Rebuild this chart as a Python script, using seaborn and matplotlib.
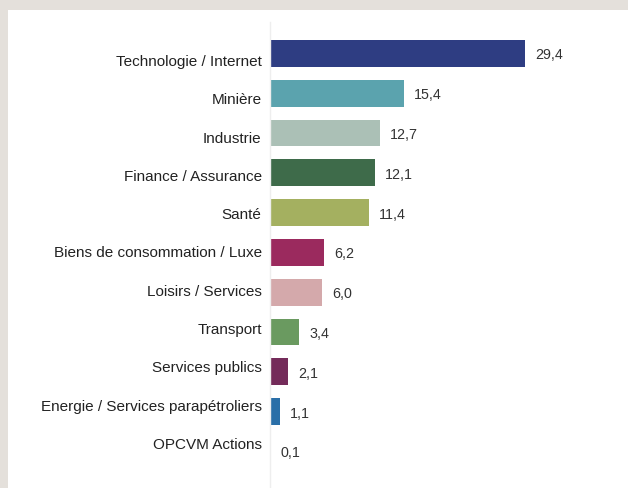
import pandas as pd
import numpy as np
import matplotlib.pyplot as plt
import seaborn as sns

secteurs = ['Technologie / Internet', 'Minière', 'Industrie', 'Finance / Assurance',
            'Santé', 'Biens de consommation / Luxe', 'Loisirs / Services', 'Transport',
            'Services publics', 'Energie / Services parapétroliers', 'OPCVM Actions']
poids = [29.4, 15.4, 12.7, 12.1, 11.4, 6.2, 6.0, 3.4, 2.1, 1.1, 0.1]
couleurs = ['#2e3d82', '#5ba3ae', '#abc0b6', '#3e6b4a', '#a4b060', '#9b2a5e',
            '#d4a9ab', '#6a9a60', '#742b5a', '#2a6fa8', '#e8e3cc']

df = pd.DataFrame({'secteur': secteurs, 'poids': poids})

sns.set_style('white')
plt.rcParams['font.family'] = ['Liberation Sans', 'DejaVu Sans']

fig = plt.figure(figsize=(6.28, 4.88), dpi=100)
fig.patch.set_facecolor('#e4e0db')

# white panel inside the beige frame
bg = fig.add_axes([8 / 628, 0, 1 - 8 / 628, 1 - 10 / 488], zorder=-1)
bg.set_facecolor('white')
bg.set_xticks([])
bg.set_yticks([])
for s in bg.spines.values():
    s.set_visible(False)

ax = fig.add_axes([270 / 628, 0, 1 - 270 / 628, (488 - 22) / 488], zorder=1)
ax.set_facecolor('none')
sns.barplot(df, y='secteur', x='poids', hue='secteur', palette=couleurs,
            legend=False, width=0.67, saturation=1, linewidth=0, ax=ax)

ax.set_xlim(0, 358 / 8.67)
ax.set_ylim(10.92, -0.79)
for i, v in enumerate(poids):
    ax.text(v + 10 / 8.67, i + 0.05, f'{v:.1f}'.replace('.', ','), va='center',
            ha='left', fontsize=10.3, color='#333333')

# category labels sit on a slightly tighter pitch than the bars
pos = (7 + 38.3 * np.arange(len(secteurs))) / 39.8
ax.set_yticks(pos, labels=secteurs)

ax.set_xlabel('')
ax.set_ylabel('')
ax.set_xticks([])
ax.tick_params(axis='y', length=0, pad=6, labelsize=11, labelcolor='#222222')
for s in ['top', 'right', 'bottom']:
    ax.spines[s].set_visible(False)
ax.spines['left'].set_color('#eeeeee')
ax.spines['left'].set_linewidth(1)

fig.savefig('out.png', dpi=100, facecolor=fig.get_facecolor())
